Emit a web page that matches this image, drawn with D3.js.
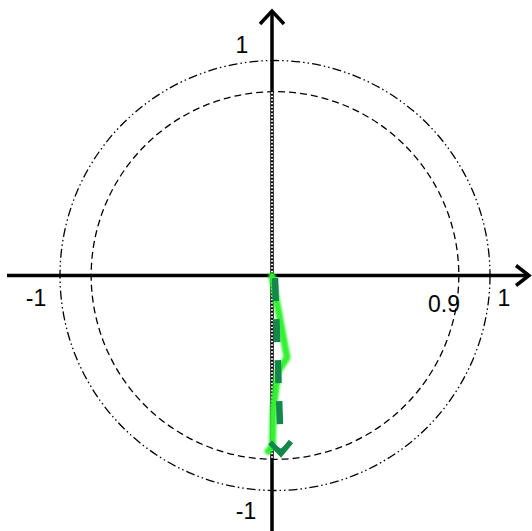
<!DOCTYPE html>
<html>
<head>
<meta charset="utf-8">
<script src="https://cdn.jsdelivr.net/npm/d3@7/dist/d3.min.js"></script>
<style>
  html, body { margin: 0; padding: 0; background: #fff; }
  svg { display: block; }
  text { font-family: "Liberation Sans", Arial, sans-serif; font-size: 23px; fill: #000; }
</style>
</head>
<body>
<svg id="chart" width="532" height="531"></svg>
<script>
// Reference rings (radius in units of the unit circle)
const ringRadii = [0.855, 1];
const ringDash = ["7,4", "9,3,1.5,3,1.5,3"];

// Axis tick labels
const axisLabelsX = [[-1, "-1"], [0.855, "0.9"], [1, "1"]];
const axisLabelsY = [[1, "1"], [-1, "-1"]];

// Vertical reference phasor (dotted), spanning the inner ring
const refPhasor = [[0, 0.855], [0, -0.855]];

// Light green chain of component phasors
const chainX = [0, 0.07, 0.028, 0.006, 0.002, -0.018];
const chainY = [0, -0.38, -0.445, -0.62, -0.79, -0.815];

// Resultant phasor (dark green, dashed with arrow)
const resultX = [0.014, 0.042];
const resultY = [-0.01, -0.84];

const svg = d3.select("#chart");
const R = 215;
const cx = 272, cy = 276;
const x = d3.scaleLinear().domain([-1, 1]).range([cx - R, cx + R]);
const y = d3.scaleLinear().domain([-1, 1]).range([cy + R, cy - R]);
const ringShift = 3;

// rings
svg.selectAll("ellipse.ring").data(ringRadii).join("ellipse")
  .attr("class", "ring")
  .attr("cx", x(0) + ringShift)
  .attr("cy", y(0) - 0.5)
  .attr("rx", d => x(d) - x(0))
  .attr("ry", d => y(0) - y(d))
  .attr("fill", "none")
  .attr("stroke", "#000")
  .attr("stroke-width", 1.3)
  .attr("stroke-dasharray", (d, i) => ringDash[i]);

// horizontal axis with open arrow
const axY = y(0) - 0.5;
svg.append("line").attr("x1", 7).attr("x2", 529).attr("y1", axY).attr("y2", axY)
  .attr("stroke", "#000").attr("stroke-width", 3.5);
svg.append("path").attr("d", `M516,${axY - 10}L529,${axY}L516,${axY + 10}`)
  .attr("fill", "none").attr("stroke", "#000").attr("stroke-width", 3.5)
  .attr("stroke-linejoin", "miter");

// vertical axis with open arrow
const axX = x(0);
svg.append("line").attr("x1", axX).attr("x2", axX).attr("y1", 11).attr("y2", 531)
  .attr("stroke", "#000").attr("stroke-width", 3.5);
svg.append("path").attr("d", `M${axX - 12},24L${axX},11L${axX + 12},24`)
  .attr("fill", "none").attr("stroke", "#000").attr("stroke-width", 3.5)
  .attr("stroke-linejoin", "miter");

// dotted reference phasor along the vertical axis
svg.append("line")
  .attr("x1", x(refPhasor[0][0])).attr("y1", y(refPhasor[0][1]))
  .attr("x2", x(refPhasor[1][0])).attr("y2", y(refPhasor[1][1]))
  .attr("stroke", "#fff").attr("stroke-width", 2)
  .attr("stroke-dasharray", "1.5,2");

// soft edge for the light green chain
const defs = svg.append("defs");
defs.append("filter").attr("id", "soft")
  .attr("x", "-50%").attr("y", "-10%").attr("width", "200%").attr("height", "120%")
  .append("feGaussianBlur").attr("stdDeviation", 0.9);

const chain = chainX.map((v, i) => [x(v), y(chainY[i])]);
svg.append("path")
  .attr("d", d3.line()(chain))
  .attr("fill", "none")
  .attr("stroke", "#33f033")
  .attr("stroke-width", 7)
  .attr("stroke-linejoin", "round")
  .attr("stroke-linecap", "round")
  .attr("filter", "url(#soft)");

// resultant phasor
const green = "#14884a";
const x0 = x(resultX[0]), y0 = y(resultY[0]);
const x1 = x(resultX[1]), y1 = y(resultY[1]);
const ang = Math.atan2(y1 - y0, x1 - x0);
const headLen = 18;
const wing = 0.62;
const back = headLen * Math.cos(wing);
svg.append("line")
  .attr("x1", x0).attr("y1", y0)
  .attr("x2", x1 - Math.cos(ang) * back).attr("y2", y1 - Math.sin(ang) * back)
  .attr("stroke", green).attr("stroke-width", 6.5)
  .attr("stroke-dasharray", "23,18");
const tip = [x1 - 3 * Math.cos(ang), y1 - 3 * Math.sin(ang)];
const wingA = [x1 - headLen * Math.cos(ang - wing), y1 - headLen * Math.sin(ang - wing)];
const wingB = [x1 - headLen * Math.cos(ang + wing), y1 - headLen * Math.sin(ang + wing)];
const notch = [x1 - 8 * Math.cos(ang), y1 - 8 * Math.sin(ang)];
svg.append("path")
  .attr("d", d3.line()([wingA, tip, wingB]))
  .attr("fill", "none").attr("stroke", green).attr("stroke-width", 5.5)
  .attr("stroke-linejoin", "miter");
svg.append("path")
  .attr("d", d3.line()([wingA, tip, wingB, notch]) + "Z")
  .attr("fill", green);

// axis labels
const xLabelPos = { "-1": [36, 306], "0.9": [444, 312], "1": [504, 306] };
svg.selectAll("text.xl").data(axisLabelsX).join("text")
  .attr("class", "xl")
  .attr("x", d => xLabelPos[d[1]][0])
  .attr("y", d => xLabelPos[d[1]][1])
  .attr("text-anchor", "middle")
  .text(d => d[1]);
svg.selectAll("text.yl").data(axisLabelsY).join("text")
  .attr("class", "yl")
  .attr("x", d => d[0] > 0 ? 242 : 246)
  .attr("y", d => d[0] > 0 ? 53 : 519)
  .attr("text-anchor", "middle")
  .text(d => d[1]);
</script>
</body>
</html>
